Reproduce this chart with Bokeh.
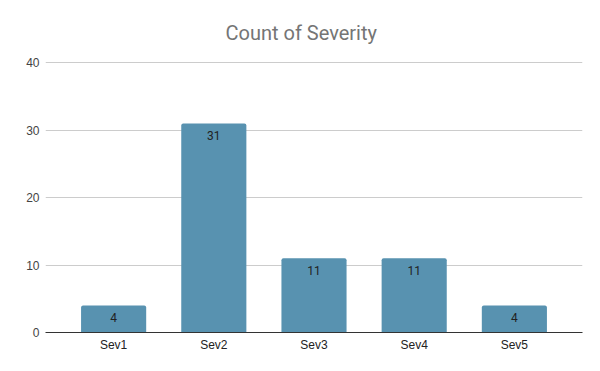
from bokeh.plotting import figure
from bokeh.models import ColumnDataSource, LabelSet, FactorRange, Range1d, SingleIntervalTicker
from bokeh.core.properties import value
from bokeh.embed import file_html
from bokeh.resources import INLINE

categories = ["Sev1", "Sev2", "Sev3", "Sev4", "Sev5"]
counts = [4, 31, 11, 11, 4]
title_text = "Count of Severity"

src = ColumnDataSource(dict(cat=categories, val=counts, lbl=[str(c) for c in counts]))

p = figure(width=600, height=371, output_backend="svg", toolbar_location=None,
           x_range=FactorRange(*categories, range_padding=0.072),
           y_range=Range1d(0, 40.2), title=title_text)
p.min_border_left = 45
p.min_border_right = 18
p.min_border_top = 61
p.min_border_bottom = 39
p.outline_line_color = None
p.background_fill_color = "white"
p.border_fill_color = "white"

p.title.align = "left"
p.title.offset = 180
p.title.text_font = "Roboto"
p.title.text_font_size = "20px"
p.title.text_font_style = "normal"
p.title.text_color = "#757575"
p.title.standoff = 34

p.vbar(x="cat", top="val", width=0.65, source=src, fill_color="#5892b0",
       line_color=None, border_radius=[2, 2, 0, 0])

labels = LabelSet(x="cat", y="val", text="lbl", source=src, y_offset=-12,
                  text_align="center", text_baseline="middle",
                  text_font_size="12px", text_color="#222222",
                  text_font=value("Roboto"))
p.add_layout(labels)

p.yaxis.ticker = SingleIntervalTicker(interval=10)
p.yaxis.axis_line_color = None
p.yaxis.major_tick_line_color = None
p.yaxis.minor_tick_line_color = None
p.yaxis.major_tick_out = 0
p.yaxis.minor_tick_out = 0
p.yaxis.major_label_standoff = 6
p.yaxis.major_label_text_font = "Liberation Sans"
p.yaxis.major_label_text_font_size = "12px"
p.yaxis.major_label_text_color = "#444444"

p.xaxis.axis_line_color = "#333333"
p.xaxis.axis_line_width = 1
p.xaxis.major_tick_line_color = None
p.xaxis.minor_tick_line_color = None
p.xaxis.major_tick_out = 0
p.xaxis.minor_tick_out = 0
p.xaxis.major_label_standoff = 5
p.xaxis.major_label_text_font = "Liberation Sans"
p.xaxis.major_label_text_font_size = "12px"
p.xaxis.major_label_text_color = "#222222"

p.xgrid.grid_line_color = None
p.ygrid.grid_line_color = "#cccccc"
p.ygrid.grid_line_width = 1

open("out.html", "w").write(file_html(p, INLINE))
